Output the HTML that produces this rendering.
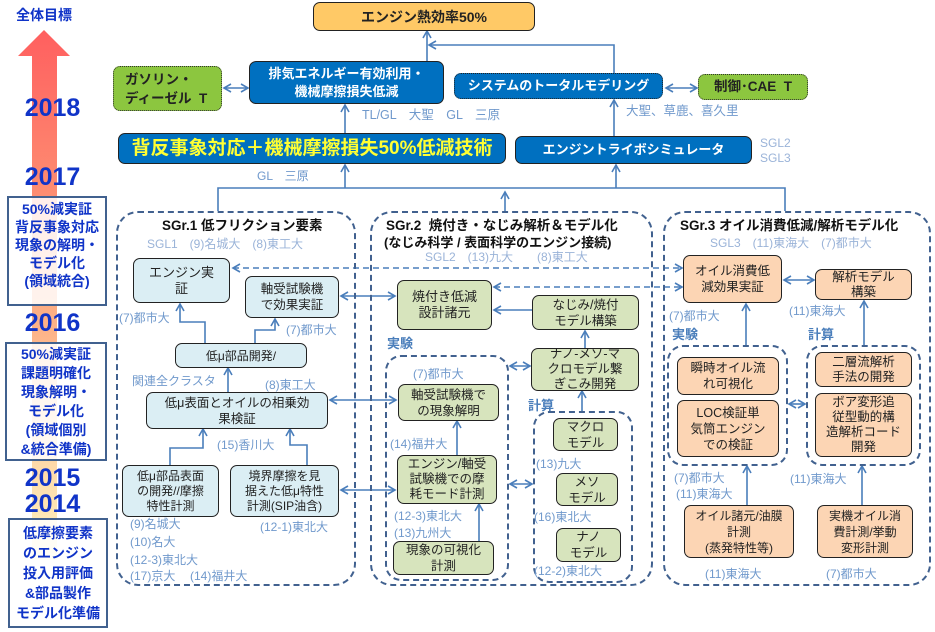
<!DOCTYPE html>
<html><head><meta charset="utf-8">
<style>
body{margin:0;width:935px;height:632px;background:#fff;position:relative;overflow:hidden;font-family:"Liberation Sans","Noto Sans CJK JP",sans-serif;}
.a{position:absolute;}
.n{position:absolute;box-sizing:border-box;border:1.5px solid #222;border-radius:7px;display:flex;align-items:center;justify-content:center;text-align:center;font-size:12.5px;line-height:16px;color:#222;}
.b{background:#dbeef4}.g{background:#d7e4bd}.o{background:#fcd5b4}
.db{background:#0070c0;color:#fff;font-weight:bold;border-color:#222;}
.l{position:absolute;font-size:12px;color:#7099cc;white-space:nowrap;line-height:14px;}
.t{position:absolute;font-weight:bold;font-size:13px;color:#111;white-space:nowrap;}
.dc{position:absolute;box-sizing:border-box;border:2.5px dashed #41618f;border-radius:22px;}
.yr{position:absolute;left:0;width:105px;text-align:center;font-weight:bold;color:#1034c8;font-size:25px;line-height:26px;}
.yb{position:absolute;box-sizing:border-box;border:2px solid #41618f;background:rgba(255,255,255,0.85);color:#1034c8;font-weight:bold;font-size:14px;line-height:18px;text-align:center;}
.lb{position:absolute;font-weight:bold;font-size:13px;color:#4a7ebb;}
</style></head><body>
<svg class="a" style="left:0;top:0" width="935" height="632">
<defs>
<linearGradient id="gr" x1="0" y1="0" x2="0" y2="1"><stop offset="0" stop-color="#ff5f5f"/><stop offset="0.45" stop-color="#fca27a"/><stop offset="1" stop-color="#fff4c0"/></linearGradient>
<marker id="m" markerWidth="10" markerHeight="10" refX="8" refY="5" orient="auto-start-reverse" markerUnits="userSpaceOnUse"><path d="M1,1 L8,5 L1,9" fill="none" stroke="#4a7ebb" stroke-width="1.6"/></marker>
</defs>
<polygon points="44,30 70,56 57,56 57,560 32,560 32,56 18,56" fill="url(#gr)"/>
<g stroke="#4a7ebb" stroke-width="1.6" fill="none">
<path d="M427,61 V31" marker-end="url(#m)"/>
<path d="M614,73 V45 H429" marker-end="url(#m)"/>
<path d="M224,88 H248" marker-start="url(#m)" marker-end="url(#m)"/>
<path d="M666,88 H697" marker-start="url(#m)" marker-end="url(#m)"/>
<path d="M345,133 V105" marker-end="url(#m)"/>
<path d="M614,136 V100" marker-end="url(#m)"/>
<path d="M218,211 V188 H785 V211"/>
<path d="M345,188 V165" marker-end="url(#m)"/>
<path d="M616,188 V165" marker-end="url(#m)"/>
<path d="M505,211 V192" marker-end="url(#m)"/>
<path d="M205,343 V322 H180 V304" marker-end="url(#m)"/>
<path d="M255,343 V330 H275 V319" marker-end="url(#m)"/>
<path d="M228,392 V368" marker-end="url(#m)"/>
<path d="M170,465 V448 H203 V429" marker-end="url(#m)"/>
<path d="M307,465 V445 H290 V429" marker-end="url(#m)"/>
<path d="M341,296 H395" marker-start="url(#m)" marker-end="url(#m)"/>
<path d="M330,400 H396" marker-start="url(#m)" marker-end="url(#m)"/>
<path d="M341,490 H395" marker-start="url(#m)" marker-end="url(#m)"/>
<path d="M233,268 H682" stroke-dasharray="6,4" marker-start="url(#m)" marker-end="url(#m)"/>
<path d="M494,287 H682" stroke-dasharray="6,4" marker-start="url(#m)" marker-end="url(#m)"/>
<path d="M532,310 H494" marker-end="url(#m)"/>
<path d="M585,348 V331" marker-end="url(#m)"/>
<path d="M582,411 V391" marker-end="url(#m)"/>
<path d="M510,366 H530" marker-start="url(#m)" marker-end="url(#m)"/>
<path d="M510,484 H532" marker-start="url(#m)" marker-end="url(#m)"/>
<path d="M479,541 V504" marker-end="url(#m)"/>
<path d="M457,455 V421" marker-end="url(#m)"/>
<path d="M784,280 H814" marker-start="url(#m)" marker-end="url(#m)"/>
<path d="M746,345 V304" marker-end="url(#m)"/>
<path d="M864,345 V301" marker-end="url(#m)"/>
<path d="M789,404 H805" marker-start="url(#m)" marker-end="url(#m)"/>
<path d="M747,505 V466" marker-end="url(#m)"/>
<path d="M862,505 V466" marker-end="url(#m)"/>
</g>
</svg>

<div class="a" style="left:0;top:5px;width:88px;text-align:center;font-weight:bold;color:#1034c8;font-size:14px;">全体目標</div>
<div class="yr" style="top:95px">2018</div>
<div class="yr" style="top:164px">2017</div>
<div class="yb" style="left:7px;top:196px;width:100px;height:110px;padding-top:2px">50%減実証<br>背反事象対応<br>現象の解明・<br>モデル化<br>(領域統合)</div>
<div class="yr" style="top:310px">2016</div>
<div class="yb" style="left:5px;top:342px;width:102px;height:119px;padding-top:1px;line-height:19px">50%減実証<br>課題明確化<br>現象解明・<br>モデル化<br>(領域個別<br>&amp;統合準備)</div>
<div class="yr" style="top:465px">2015</div>
<div class="yr" style="top:491px">2014</div>
<div class="yb" style="left:8px;top:518px;width:100px;height:110px;padding-top:3px;line-height:20px">低摩擦要素<br>のエンジン<br>投入用評価<br>&amp;部品製作<br>モデル化準備</div>

<div class="n" style="left:313px;top:2px;width:222px;height:29px;background:#ffc966;font-weight:bold;font-size:14px">エンジン熱効率50%</div>
<div class="n" style="left:113px;top:66px;width:109px;height:45px;background:#8cc63f;border:1.5px dotted #333;font-weight:bold;font-size:13.5px;justify-content:flex-start;padding-left:11px;text-align:left;line-height:19px">ガソリン・<br>ディーゼル&nbsp;&nbsp;T</div>
<div class="n db" style="left:249px;top:61px;width:195px;height:43px;font-size:13px;line-height:18px">排気エネルギー有効利用・<br>機械摩擦損失低減</div>
<div class="n db" style="left:454px;top:73px;width:209px;height:26px;border:1.5px dotted #222;font-size:13px">システムのトータルモデリング</div>
<div class="n" style="left:698px;top:74px;width:110px;height:26px;background:#8cc63f;border:1.5px dotted #333;font-weight:bold;font-size:13.5px">制御･CAE&nbsp;&nbsp;T</div>
<div class="l" style="left:362px;top:108px;font-size:12.5px">TL/GL　大聖　GL　三原</div>
<div class="l" style="left:626px;top:104px;font-size:12.5px">大聖、草鹿、喜久里</div>
<div class="n db" style="left:118px;top:133px;width:388px;height:31px;color:#ffff33;font-size:19px">背反事象対応＋機械摩擦損失50%低減技術</div>
<div class="n db" style="left:515px;top:136px;width:237px;height:28px;font-size:13px">エンジントライボシミュレータ</div>
<div class="l" style="left:760px;top:136px;color:#9ab3d8">SGL2</div>
<div class="l" style="left:760px;top:151px;color:#9ab3d8">SGL3</div>
<div class="l" style="left:257px;top:169px">GL　三原</div>

<div class="dc" style="left:116px;top:211px;width:240px;height:375px"></div>
<div class="t" style="left:162px;top:214px;font-size:13.5px">SGr.1 低フリクション要素</div>
<div class="l" style="left:147px;top:237px;color:#9ab3d8">SGL1　(9)名城大　(8)東工大</div>
<div class="n b" style="left:133px;top:258px;width:97px;height:45px;font-size:13px">エンジン実<br>証</div>
<div class="n b" style="left:245px;top:276px;width:94px;height:42px">軸受試験機<br>で効果実証</div>
<div class="l" style="left:119px;top:311px">(7)都市大</div>
<div class="l" style="left:286px;top:323px">(7)都市大</div>
<div class="n b" style="left:175px;top:343px;width:132px;height:25px;font-size:12px">低μ部品開発/</div>
<div class="l" style="left:132px;top:374px">関連全クラスタ</div>
<div class="l" style="left:265px;top:378px">(8)東工大</div>
<div class="n b" style="left:146px;top:392px;width:182px;height:37px">低μ表面とオイルの相乗効<br>果検証</div>
<div class="l" style="left:217px;top:438px">(15)香川大</div>
<div class="n b" style="left:122px;top:465px;width:97px;height:52px;font-size:12px;line-height:15px">低μ部品表面<br>の開発//摩擦<br>特性計測</div>
<div class="n b" style="left:230px;top:465px;width:109px;height:52px;font-size:12px;line-height:15px">境界摩擦を見<br>据えた低μ特性<br>計測(SIP油含)</div>
<div class="l" style="left:130px;top:517px">(9)名城大</div>
<div class="l" style="left:130px;top:535px">(10)名大</div>
<div class="l" style="left:130px;top:553px">(12-3)東北大</div>
<div class="l" style="left:130px;top:569px">(17)京大</div>
<div class="l" style="left:190px;top:569px">(14)福井大</div>
<div class="l" style="left:260px;top:520px">(12-1)東北大</div>

<div class="dc" style="left:370px;top:211px;width:283px;height:375px"></div>
<div class="t" style="left:386px;top:214px;font-size:13.5px">SGr.2&nbsp;&nbsp;焼付き・なじみ解析＆モデル化</div>
<div class="t" style="left:384px;top:232px;font-size:13px">(なじみ科学 / 表面科学のエンジン接続)</div>
<div class="l" style="left:425px;top:250px;color:#9ab3d8">SGL2　(13)九大　　(8)東工大</div>
<div class="n g" style="left:397px;top:280px;width:95px;height:50px;font-size:13px">焼付き低減<br>設計諸元</div>
<div class="n g" style="left:532px;top:295px;width:107px;height:35px">なじみ/焼付<br>モデル構築</div>
<div class="lb" style="left:387px;top:333px">実験</div>
<div class="n g" style="left:531px;top:348px;width:108px;height:43px;line-height:15px">ナノ-メソ-マ<br>クロモデル繋<br>ぎこみ開発</div>
<div class="dc" style="left:385px;top:355px;width:124px;height:226px;border-radius:16px"></div>
<div class="l" style="left:413px;top:367px">(7)都市大</div>
<div class="n g" style="left:398px;top:384px;width:101px;height:37px">軸受試験機で<br>の現象解明</div>
<div class="l" style="left:390px;top:437px">(14)福井大</div>
<div class="n g" style="left:397px;top:455px;width:100px;height:49px;line-height:15px">エンジン/軸受<br>試験機での摩<br>耗モード計測</div>
<div class="l" style="left:394px;top:509px">(12-3)東北大</div>
<div class="l" style="left:394px;top:526px">(13)九州大</div>
<div class="n g" style="left:393px;top:541px;width:101px;height:34px">現象の可視化<br>計測</div>
<div class="lb" style="left:528px;top:395px">計算</div>
<div class="dc" style="left:533px;top:411px;width:100px;height:172px;border-radius:16px"></div>
<div class="n g" style="left:553px;top:418px;width:65px;height:33px">マクロ<br>モデル</div>
<div class="l" style="left:536px;top:457px">(13)九大</div>
<div class="n g" style="left:556px;top:473px;width:62px;height:33px">メソ<br>モデル</div>
<div class="l" style="left:534px;top:510px">(16)東北大</div>
<div class="n g" style="left:556px;top:528px;width:65px;height:34px">ナノ<br>モデル</div>
<div class="l" style="left:534px;top:564px">(12-2)東北大</div>

<div class="dc" style="left:663px;top:211px;width:268px;height:375px"></div>
<div class="t" style="left:680px;top:214px;font-size:13.5px">SGr.3 オイル消費低減/解析モデル化</div>
<div class="l" style="left:710px;top:236px;color:#9ab3d8">SGL3　(11)東海大　(7)都市大</div>
<div class="n o" style="left:683px;top:255px;width:99px;height:48px">オイル消費低<br>減効果実証</div>
<div class="n o" style="left:815px;top:269px;width:97px;height:31px;line-height:15px">解析モデル<br>構築</div>
<div class="l" style="left:669px;top:309px">(7)都市大</div>
<div class="l" style="left:789px;top:304px">(11)東海大</div>
<div class="lb" style="left:672px;top:324px">実験</div>
<div class="lb" style="left:808px;top:324px">計算</div>
<div class="dc" style="left:667px;top:345px;width:121px;height:121px;border-radius:16px"></div>
<div class="n o" style="left:677px;top:357px;width:102px;height:38px">瞬時オイル流<br>れ可視化</div>
<div class="n o" style="left:677px;top:400px;width:102px;height:57px">LOC検証単<br>気筒エンジン<br>での検証</div>
<div class="dc" style="left:806px;top:345px;width:115px;height:121px;border-radius:16px"></div>
<div class="n o" style="left:815px;top:352px;width:97px;height:35px;line-height:15px">二層流解析<br>手法の開発</div>
<div class="n o" style="left:815px;top:393px;width:97px;height:64px;line-height:15px">ボア変形追<br>従型動的構<br>造解析コード<br>開発</div>
<div class="l" style="left:674px;top:471px">(7)都市大</div>
<div class="l" style="left:676px;top:487px">(11)東海大</div>
<div class="l" style="left:790px;top:472px">(11)東海大</div>
<div class="n o" style="left:684px;top:505px;width:110px;height:53px;line-height:16px;font-size:12px">オイル諸元/油膜<br>計測<br>(蒸発特性等)</div>
<div class="n o" style="left:817px;top:505px;width:96px;height:53px;line-height:16px;font-size:12px">実機オイル消<br>費計測/挙動<br>変形計測</div>
<div class="l" style="left:705px;top:567px">(11)東海大</div>
<div class="l" style="left:826px;top:567px">(7)都市大</div>
</body></html>
